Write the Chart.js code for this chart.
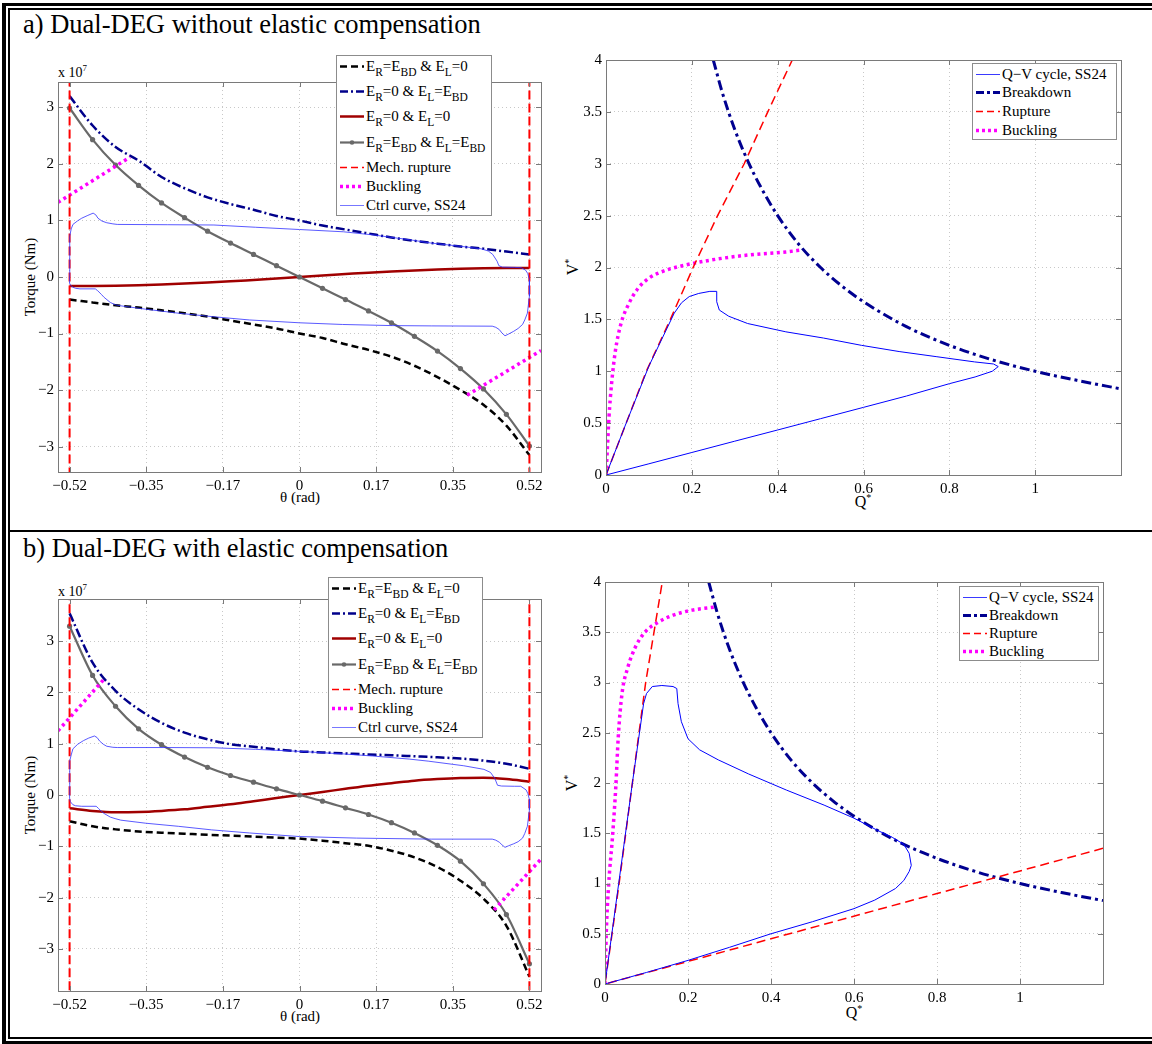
<!DOCTYPE html>
<html>
<head>
<meta charset="utf-8">
<script src="https://cdn.jsdelivr.net/npm/chart.js"></script>
<style>
  body { margin:0; background:#fff; font-family:'Liberation Serif','Times New Roman',serif; }
  #page { position:relative; width:1152px; height:1044px; overflow:hidden; background:#fff; }
  .abs { position:absolute; box-sizing:border-box; }
  canvas { position:absolute; }
  .title { position:absolute; left:23px; font-size:26.5px; line-height:30px; white-space:nowrap; }
  .lbl { position:absolute; font-size:15px; line-height:18px; white-space:nowrap; transform:translate(-50%,-50%); }
  .rot { transform:translate(-50%,-50%) rotate(-90deg); }
  .lbl sup { font-size:10px; vertical-align:6px; line-height:0; }
  .exp { position:absolute; font-size:14px; line-height:16px; white-space:nowrap; }
  .exp sup { font-size:9px; vertical-align:6px; line-height:0; }
  .legend { position:absolute; border:1px solid #8c8c8c; background:#fff; box-sizing:border-box; font-size:15px; z-index:2; }
  .row { position:relative; height:19px; }
  .row.tall { height:25.4px; }
  .row svg { position:absolute; top:0; }
  .row span { position:absolute; top:0; line-height:19px; white-space:nowrap; }
  .legend sub { font-size:11.5px; vertical-align:-5px; line-height:0; }
</style>
</head>
<body>
<div id="page">
  <!-- table frame -->
  <div class="abs" style="left:2px;top:3px;width:1200px;height:1041px;border-top:3px solid #000;border-left:4px solid #000;border-bottom:3px solid #000;"></div>
  <div class="abs" style="left:8px;top:8px;width:1200px;height:1031px;border-top:2px solid #000;border-left:2px solid #000;border-bottom:2px solid #000;"></div>
  <div class="abs" style="left:10px;top:530px;width:1200px;height:2px;background:#000;"></div>

  <div class="title" style="top:9px;">a) Dual-DEG without elastic compensation</div>
  <div class="title" style="top:533px;">b) Dual-DEG with elastic compensation</div>

  <div class="exp" style="left:58px;top:65px;">x 10<sup>7</sup></div>
  <div class="exp" style="left:58px;top:584px;">x 10<sup>7</sup></div>
  <div class="lbl rot" style="left:30px;top:277px;">Torque (Nm)</div>
  <div class="lbl rot" style="left:30px;top:795px;">Torque (Nm)</div>
  <div class="lbl" style="left:300px;top:497px;">θ (rad)</div>
  <div class="lbl" style="left:300px;top:1016px;">θ (rad)</div>
  <div class="lbl rot" style="left:573px;top:267px;font-size:16px;">V<sup>*</sup></div>
  <div class="lbl rot" style="left:572px;top:783px;font-size:16px;">V<sup>*</sup></div>
  <div class="lbl" style="left:863px;top:502px;font-size:16px;">Q<sup>*</sup></div>
  <div class="lbl" style="left:854px;top:1013px;font-size:16px;">Q<sup>*</sup></div>
</div>

<script>
// torque curves (units of 1e7 Nm), read at the 3 degree marker positions
const theta = [-0.5236, -0.4712, -0.4189, -0.3665, -0.3142, -0.2618, -0.2094, -0.1571, -0.1047, -0.0524, 0,
               0.0524, 0.1047, 0.1571, 0.2094, 0.2618, 0.3142, 0.3665, 0.4189, 0.4712, 0.5236];

// a) without elastic compensation
const blackA = [-0.40, -0.45, -0.50, -0.54, -0.59, -0.64, -0.70, -0.77, -0.84, -0.91, -1.00,
                -1.08, -1.19, -1.29, -1.41, -1.57, -1.77, -2.00, -2.26, -2.63, -3.15];
const blueA  = [3.20, 2.68, 2.30, 2.06, 1.77, 1.57, 1.41, 1.29, 1.19, 1.08, 1.00,
                0.91, 0.84, 0.77, 0.70, 0.64, 0.59, 0.54, 0.50, 0.45, 0.40];
const redA   = [-0.160, -0.158, -0.153, -0.145, -0.133, -0.117, -0.098, -0.077, -0.052, -0.027, 0,
                0.027, 0.052, 0.077, 0.098, 0.117, 0.133, 0.145, 0.153, 0.158, 0.160];
const grayA  = [2.99, 2.43, 1.98, 1.62, 1.31, 1.05, 0.81, 0.60, 0.40, 0.20, 0,
                -0.20, -0.40, -0.60, -0.81, -1.05, -1.31, -1.62, -1.98, -2.43, -2.99];

// b) with elastic compensation
const blackB = [-0.51, -0.61, -0.67, -0.71, -0.735, -0.755, -0.775, -0.79, -0.81, -0.83, -0.85,
                -0.89, -0.94, -0.99, -1.085, -1.215, -1.405, -1.67, -2.02, -2.55, -3.54];
const blueB  = [3.54, 2.58, 2.03, 1.67, 1.405, 1.215, 1.085, 0.99, 0.94, 0.89, 0.85,
                0.83, 0.81, 0.79, 0.775, 0.755, 0.735, 0.71, 0.67, 0.61, 0.51];
const redB   = [-0.26, -0.31, -0.335, -0.33, -0.31, -0.28, -0.23, -0.18, -0.12, -0.06, 0,
                0.06, 0.12, 0.18, 0.23, 0.28, 0.31, 0.33, 0.335, 0.31, 0.26];
const grayB  = [3.29, 2.33, 1.73, 1.29, 0.98, 0.74, 0.54, 0.38, 0.25, 0.12, 0,
                -0.12, -0.25, -0.38, -0.54, -0.74, -0.98, -1.29, -1.73, -2.33, -3.29];

// mechanical rupture limits and buckling segments
const ruptTheta = [-0.5236, 0.5236];
const buckA1_th = [-0.55, -0.386], buckA1_tq = [1.32, 2.12];
const buckA2_th = [0.382, 0.55],   buckA2_tq = [-2.09, -1.30];
const buckB1_th = [-0.55, -0.447], buckB1_tq = [1.25, 2.24];
const buckB2_th = [0.443, 0.55],   buckB2_tq = [-2.24, -1.25];

// control curve SS24 (closed loop)
const ctrlA_th = [-0.5236, -0.5236, -0.523, -0.520, -0.516, -0.506, -0.496, -0.482, -0.470, -0.464, -0.459, -0.450, -0.439, -0.425, -0.415,
                  -0.300, -0.195, -0.100, 0, 0.100, 0.167, 0.250, 0.300, 0.365, 0.413, 0.430, 0.440, 0.450, 0.454, 0.462, 0.490, 0.505, 0.515, 0.520, 0.5236,
                  0.5236, 0.519, 0.513, 0.508, 0.498, 0.488, 0.476, 0.468, 0.461, 0.455, 0.447, 0.439, 0.300, 0.211, 0.098, 0,
                  -0.114, -0.200, -0.276, -0.350, -0.407, -0.420, -0.431, -0.445, -0.451, -0.460, -0.465, -0.500, -0.510, -0.516, -0.522, -0.5236, -0.5236];
const ctrlA_tq = [0, 0.50, 0.72, 0.85, 0.93, 0.99, 1.04, 1.09, 1.13, 1.10, 1.04, 0.99, 0.96, 0.94, 0.93,
                  0.925, 0.92, 0.88, 0.84, 0.80, 0.745, 0.66, 0.60, 0.545, 0.50, 0.46, 0.40, 0.28, 0.20, 0.175, 0.17, 0.165, 0.12, 0.06, -0.05,
                  -0.34, -0.64, -0.76, -0.84, -0.91, -0.96, -1.01, -1.04, -0.99, -0.93, -0.89, -0.87, -0.865, -0.86, -0.84, -0.81,
                  -0.76, -0.70, -0.64, -0.57, -0.51, -0.49, -0.45, -0.36, -0.31, -0.24, -0.21, -0.21, -0.20, -0.18, -0.14, -0.11, 0];
const ctrlB_th = [-0.5236, -0.5236, -0.523, -0.520, -0.516, -0.505, -0.492, -0.480, -0.467, -0.461, -0.455, -0.447, -0.439, -0.425, -0.415,
                  -0.300, -0.195, -0.100, 0, 0.100, 0.167, 0.250, 0.293, 0.374, 0.420, 0.435, 0.445, 0.451, 0.460, 0.490, 0.504, 0.516, 0.520, 0.5236,
                  0.5236, 0.519, 0.513, 0.508, 0.498, 0.488, 0.476, 0.468, 0.461, 0.455, 0.447, 0.439, 0.300, 0.130, 0,
                  -0.114, -0.200, -0.276, -0.350, -0.407, -0.420, -0.431, -0.445, -0.451, -0.458, -0.463, -0.496, -0.510, -0.516, -0.522, -0.5236, -0.5236];
const ctrlB_tq = [0, 0.50, 0.66, 0.78, 0.90, 0.99, 1.06, 1.11, 1.15, 1.12, 1.05, 0.99, 0.95, 0.93, 0.925,
                  0.925, 0.92, 0.89, 0.85, 0.80, 0.76, 0.70, 0.66, 0.57, 0.50, 0.44, 0.32, 0.19, 0.175, 0.17, 0.17, 0.10, 0.03, -0.09,
                  -0.29, -0.61, -0.75, -0.84, -0.91, -0.95, -0.99, -1.02, -0.97, -0.92, -0.88, -0.86, -0.86, -0.84, -0.81,
                  -0.74, -0.68, -0.61, -0.55, -0.49, -0.46, -0.43, -0.36, -0.32, -0.26, -0.22, -0.22, -0.21, -0.19, -0.13, -0.06, 0];

// Q-V plane
const cycleA_Q = [0, 0.10, 0.20, 0.30, 0.40, 0.50, 0.60, 0.70, 0.80, 0.86, 0.90, 0.914, 0.903, 0.859, 0.771, 0.683, 0.595, 0.507,
                  0.419, 0.330, 0.286, 0.264, 0.258, 0.258, 0.242, 0.216, 0.194, 0.176, 0.159, 0.100, 0.047, 0];
const cycleA_V = [0, 0.108, 0.217, 0.326, 0.434, 0.543, 0.652, 0.761, 0.880, 0.945, 1.00, 1.045, 1.07, 1.09, 1.14, 1.19, 1.25, 1.32,
                  1.38, 1.46, 1.53, 1.59, 1.67, 1.77, 1.77, 1.75, 1.72, 1.66, 1.56, 1.05, 0.50, 0];
const ruptA_Q = [0, 0.047, 0.094, 0.150, 0.203, 0.260, 0.322, 0.377, 0.434];
const ruptA_V = [0, 0.5, 1.0, 1.5, 2.0, 2.5, 3.0, 3.5, 4.0];
const buckA_Q = [0, 0.003, 0.007, 0.013, 0.022, 0.035, 0.053, 0.075, 0.101, 0.137, 0.181, 0.242, 0.330, 0.419, 0.458];
const buckA_V = [0, 0.24, 0.56, 0.88, 1.20, 1.46, 1.65, 1.80, 1.90, 1.97, 2.02, 2.07, 2.12, 2.15, 2.17];

const breakQ = [0.25, 0.27, 0.30, 0.33, 0.36, 0.40, 0.45, 0.50, 0.55, 0.60, 0.70, 0.80, 0.90, 1.00, 1.10, 1.20];
const breakV = [4.00, 3.70, 3.33, 3.03, 2.78, 2.50, 2.22, 2.00, 1.82, 1.67, 1.43, 1.25, 1.11, 1.00, 0.91, 0.83];

const cycleB_Q = [0, 0.10, 0.20, 0.30, 0.40, 0.50, 0.60, 0.65, 0.70, 0.72, 0.733, 0.738, 0.733, 0.720, 0.692, 0.656, 0.600, 0.528,
                  0.437, 0.346, 0.273, 0.228, 0.200, 0.184, 0.176, 0.173, 0.164, 0.137, 0.114, 0.100, 0.093, 0.066, 0.033, 0];
const cycleB_V = [0, 0.115, 0.235, 0.365, 0.50, 0.62, 0.75, 0.835, 0.95, 1.03, 1.12, 1.18, 1.30, 1.39, 1.46, 1.53, 1.65, 1.78,
                  1.93, 2.09, 2.23, 2.33, 2.44, 2.61, 2.79, 2.94, 2.96, 2.97, 2.96, 2.89, 2.79, 2.00, 1.00, 0];
const ruptB_Q = [1.20, 0.80, 0.40, 0, 0.034, 0.066, 0.098, 0.138];
const ruptB_V = [1.35, 0.90, 0.45, 0, 1.0, 2.0, 3.0, 4.0];
const buckB_Q = [0, 0.003, 0.009, 0.018, 0.026, 0.032, 0.041, 0.055, 0.073, 0.096, 0.128, 0.164, 0.210, 0.264];
const buckB_V = [0, 0.50, 1.00, 1.46, 1.96, 2.46, 2.89, 3.15, 3.35, 3.50, 3.60, 3.67, 3.72, 3.75];

// ticks
const thetaTicks  = [-0.5236, -0.3491, -0.1745, 0, 0.1745, 0.3491, 0.5236];
const thetaLabels = ['\u22120.52', '\u22120.35', '\u22120.17', '0', '0.17', '0.35', '0.52'];
const torqueTicks  = [-3, -2, -1, 0, 1, 2, 3];
const torqueLabels = ['\u22123', '\u22122', '\u22121', '0', '1', '2', '3'];
const qTicks  = [0, 0.2, 0.4, 0.6, 0.8, 1];
const qLabels = ['0', '0.2', '0.4', '0.6', '0.8', '1'];
const vTicks  = [0, 0.5, 1, 1.5, 2, 2.5, 3, 3.5, 4];
const vLabels = ['0', '0.5', '1', '1.5', '2', '2.5', '3', '3.5', '4'];

const serif = "'Liberation Serif', 'Times New Roman', serif";

const framePlugin = {
  id: 'frame',
  afterDraw(chart) {
    const {ctx, chartArea: a} = chart;
    const sx = chart.scales.x, sy = chart.scales.y;
    ctx.save();
    ctx.strokeStyle = '#7a7a7a';
    ctx.lineWidth = 1;
    ctx.beginPath();
    sx.ticks.forEach(t => {
      const p = Math.round(sx.getPixelForValue(t.value)) + 0.5;
      ctx.moveTo(p, a.bottom); ctx.lineTo(p, a.bottom - 5);
      ctx.moveTo(p, a.top); ctx.lineTo(p, a.top + 5);
    });
    sy.ticks.forEach(t => {
      const p = Math.round(sy.getPixelForValue(t.value)) + 0.5;
      ctx.moveTo(a.left, p); ctx.lineTo(a.left + 5, p);
      ctx.moveTo(a.right, p); ctx.lineTo(a.right - 5, p);
    });
    ctx.stroke();
    ctx.strokeRect(Math.round(a.left) + 0.5, Math.round(a.top) + 0.5,
                   Math.round(a.right - a.left), Math.round(a.bottom - a.top));
    ctx.restore();
  }
};

function xy(xs, ys) { return xs.map((x, i) => ({x: x, y: ys[i]})); }
function line(xs, ys, color, width, dash, extra) {
  return Object.assign({
    data: xy(xs, ys), showLine: true, borderColor: color, backgroundColor: color,
    borderWidth: width, borderDash: dash || [], pointRadius: 0, pointHoverRadius: 0,
    fill: false, tension: 0
  }, extra || {});
}
const smooth = {cubicInterpolationMode: 'monotone'};

function axis(min, max, ticks, labels, fit, horizontal) {
  return {
    type: 'linear', min: min, max: max,
    afterBuildTicks: s => { s.ticks = ticks.map(v => ({value: v})); },
    afterFit: s => { if (horizontal) s.height = fit; else s.width = fit; },
    ticks: {
      callback: (v, i) => labels[i], autoSkip: false, maxRotation: 0,
      color: '#000', font: {family: serif, size: 15}, padding: horizontal ? 5 : 4
    },
    grid: {color: '#c8c8c8', drawTicks: false, lineWidth: 1},
    border: {display: false, dash: [1, 3]}
  };
}

function build(box, area, xa, ya, datasets) {
  const c = document.createElement('canvas');
  c.width = box[2]; c.height = box[3];
  c.style.left = box[0] + 'px'; c.style.top = box[1] + 'px';
  document.getElementById('page').appendChild(c);
  new Chart(c.getContext('2d'), {
    type: 'scatter',
    data: {datasets: datasets},
    options: {
      responsive: false, animation: false, devicePixelRatio: 1,
      layout: {padding: {left: 0, bottom: 0, top: area[1] - box[1], right: box[0] + box[2] - area[2]}},
      plugins: {legend: {display: false}, tooltip: {enabled: false}},
      scales: {
        x: axis(xa[0], xa[1], xa[2], xa[3], box[1] + box[3] - area[3], true),
        y: axis(ya[0], ya[1], ya[2], ya[3], area[0] - box[0], false)
      }
    },
    plugins: [framePlugin]
  });
}

const cBlack = '#000000', cBlue = '#00008b', cDark = '#a00000', cGray = '#696969',
      cRed = '#ff0000', cMag = '#ff00ff', cCtrl = '#3030ff';

function torqueSets(black, blue, red, gray, ctrlTh, ctrlTq, b1th, b1tq, b2th, b2tq, ymax) {
  return [
    line(ctrlTh, ctrlTq, cCtrl, 0.8),
    line(ruptTheta.slice(0, 1).concat(ruptTheta.slice(0, 1)), [-ymax - 1, ymax + 1], cRed, 2, [9, 4]),
    line(ruptTheta.slice(1).concat(ruptTheta.slice(1)), [-ymax - 1, ymax + 1], cRed, 2, [9, 4]),
    line(b1th, b1tq, cMag, 3.5, [3, 3.5]),
    line(b2th, b2tq, cMag, 3.5, [3, 3.5]),
    line(theta, gray, cGray, 2.2, [], Object.assign({pointRadius: 2.6, pointBackgroundColor: cGray, pointBorderWidth: 0}, smooth)),
    line(theta, red, cDark, 2.5, [], smooth),
    line(theta, blue, cBlue, 2.5, [9, 3, 2, 3], smooth),
    line(theta, black, cBlack, 2.5, [7, 4], smooth)
  ];
}

build([12, 50, 548, 470], [58, 82, 541, 472],
      [-0.55, 0.55, thetaTicks, thetaLabels], [-3.45, 3.45, torqueTicks, torqueLabels],
      torqueSets(blackA, blueA, redA, grayA, ctrlA_th, ctrlA_tq, buckA1_th, buckA1_tq, buckA2_th, buckA2_tq, 3.45));

build([12, 570, 548, 462], [58, 599, 541, 991],
      [-0.55, 0.55, thetaTicks, thetaLabels], [-3.82, 3.82, torqueTicks, torqueLabels],
      torqueSets(blackB, blueB, redB, grayB, ctrlB_th, ctrlB_tq, buckB1_th, buckB1_tq, buckB2_th, buckB2_tq, 3.82));

build([560, 36, 585, 484], [606, 60, 1121, 475],
      [0, 1.2, qTicks, qLabels], [0, 4, vTicks, vLabels], [
        line(cycleA_Q, cycleA_V, '#0000ff', 1),
        line(ruptA_Q, ruptA_V, cRed, 1.5, [9, 5]),
        line(buckA_Q, buckA_V, cMag, 3.5, [3, 3.5], smooth),
        line(breakQ, breakV, '#000090', 3, [10, 4, 3, 4], smooth)
      ]);

build([560, 560, 585, 470], [605, 582, 1103, 984],
      [0, 1.2, qTicks, qLabels], [0, 4, vTicks, vLabels], [
        line(cycleB_Q, cycleB_V, '#0000ff', 1),
        line(ruptB_Q, ruptB_V, cRed, 1.5, [9, 5]),
        line(buckB_Q, buckB_V, cMag, 3.5, [3, 3.5], smooth),
        line(breakQ, breakV, '#000090', 3, [10, 4, 3, 4], smooth)
      ]);

// legends (html so that subscripts stay real text)
const sample = {
  black: {c: cBlack, w: 2.5, d: '7 4'},
  blue:  {c: cBlue, w: 2.5, d: '8 3 2 3'},
  dark:  {c: cDark, w: 2.5, d: ''},
  gray:  {c: cGray, w: 2.2, d: '', dot: true},
  red:   {c: cRed, w: 1.6, d: '7 4'},
  mag:   {c: cMag, w: 3.5, d: '3 3'},
  ctrl:  {c: '#7777ff', w: 1, d: ''},
  cyc:   {c: '#3a3aff', w: 1, d: ''},
  brk:   {c: '#000090', w: 3, d: '8 3 3 3'}
};
function legend(left, top, width, rowH, rows) {
  const box = document.createElement('div');
  box.className = 'legend';
  box.style.left = left + 'px'; box.style.top = top + 'px'; box.style.width = width + 'px';
  box.style.paddingTop = '0.5px';
  rows.forEach(r => {
    const s = sample[r[1]];
    const row = document.createElement('div');
    row.className = 'row' + (r[2] ? ' tall' : '');
    if (!r[2] && rowH) row.style.height = rowH + 'px';
    row.innerHTML =
      '<svg width="26" height="19" style="left:3px"><line x1="0" y1="9.5" x2="24" y2="9.5" stroke="' + s.c +
      '" stroke-width="' + s.w + '"' + (s.d ? ' stroke-dasharray="' + s.d + '"' : '') + '/>' +
      (s.dot ? '<circle cx="12" cy="9.5" r="2.3" fill="' + s.c + '"/>' : '') + '</svg>' +
      '<span style="left:29px">' + r[0] + '</span>';
    box.appendChild(row);
  });
  document.getElementById('page').appendChild(box);
}
const torqueLegend = [
  ['E<sub>R</sub>=E<sub>BD</sub> &amp; E<sub>L</sub>=0', 'black', true],
  ['E<sub>R</sub>=0 &amp; E<sub>L</sub>=E<sub>BD</sub>', 'blue', true],
  ['E<sub>R</sub>=0 &amp; E<sub>L</sub>=0', 'dark', true],
  ['E<sub>R</sub>=E<sub>BD</sub> &amp; E<sub>L</sub>=E<sub>BD</sub>', 'gray', true],
  ['Mech. rupture', 'red', false],
  ['Buckling', 'mag', false],
  ['Ctrl curve, SS24', 'ctrl', false]
];
const qvLegend = [
  ['Q\u2212V cycle, SS24', 'cyc', false],
  ['Breakdown', 'brk', false],
  ['Rupture', 'red', false],
  ['Buckling', 'mag', false]
];
legend(336, 55, 156, 19, torqueLegend);
legend(328, 577, 155, 19, torqueLegend);
legend(972, 63, 145, 18.7, qvLegend);
legend(959, 586, 140, 18.2, qvLegend);
</script>
</body>
</html>
